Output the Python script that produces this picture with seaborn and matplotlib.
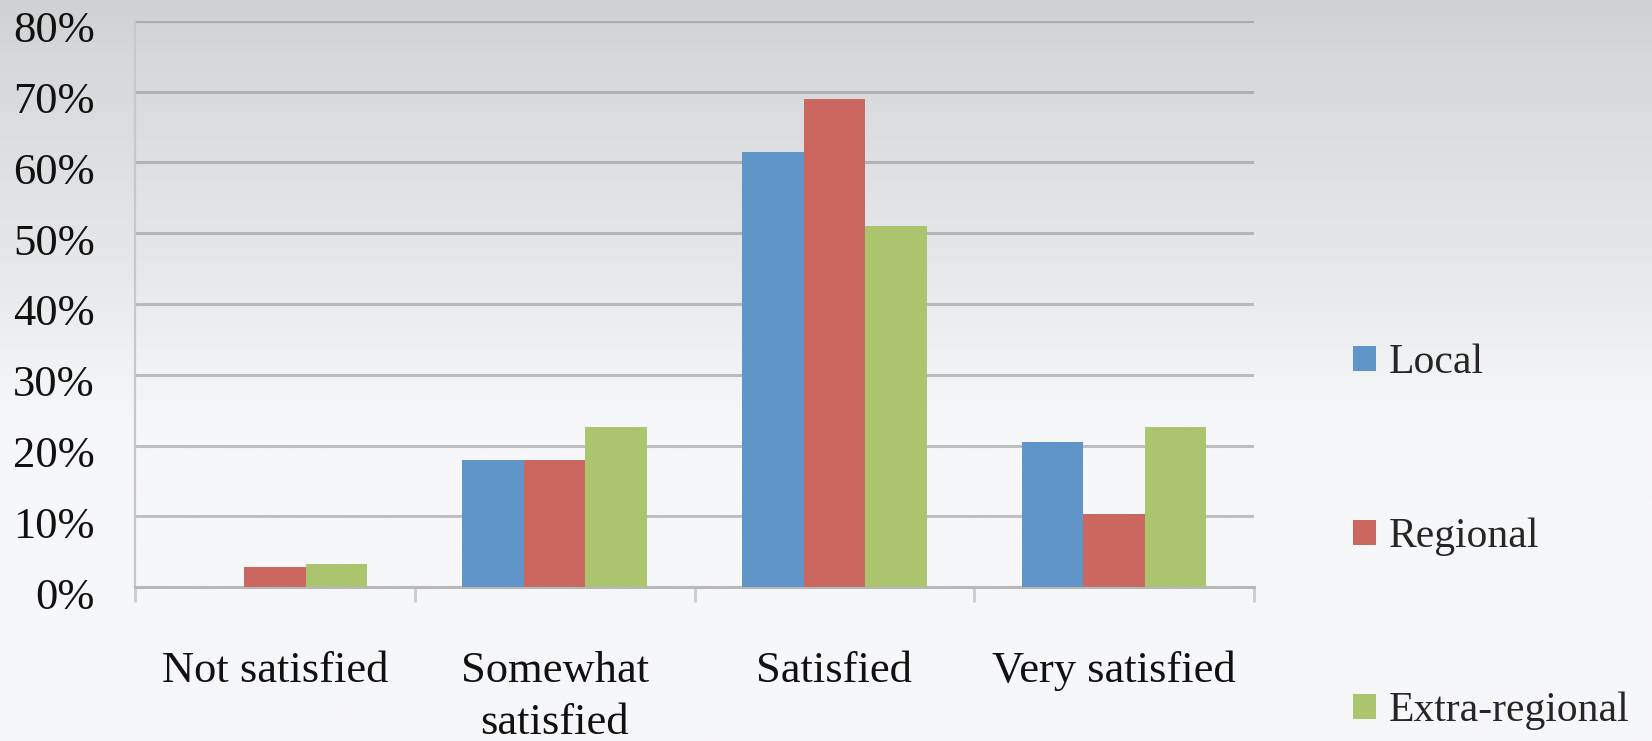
import matplotlib
matplotlib.use('Agg')
import matplotlib.pyplot as plt
import matplotlib.transforms as mtransforms
import numpy as np
import pandas as pd
import seaborn as sns
from matplotlib.colors import LinearSegmentedColormap
from matplotlib.ticker import FuncFormatter, FixedLocator

# Data (percent of respondents)
categories = ['Not satisfied', 'Somewhat\nsatisfied', 'Satisfied', 'Very satisfied']
series = ['Local', 'Regional', 'Extra-regional']
local = [0.0, 17.9, 61.5, 20.5]
regional = [2.8, 17.9, 69.0, 10.3]
extra_regional = [3.3, 22.6, 51.0, 22.6]
yticks = [0, 10, 20, 30, 40, 50, 60, 70, 80]
colors = ['#5f95c8', '#cc6660', '#abc56f']

df = pd.DataFrame({
    'category': categories * len(series),
    'group': np.repeat(series, len(categories)),
    'value': local + regional + extra_regional,
})

sns.set_theme(style='white')
plt.rcParams['font.family'] = ['Liberation Serif', 'DejaVu Serif']

fig = plt.figure(figsize=(16.52, 7.41), dpi=100)

# grey-to-white background gradient
bg = fig.add_axes([0, 0, 1, 1], zorder=-10)
cmap = LinearSegmentedColormap.from_list('bg', [
    (0.0, '#f6f7f9'), (0.43, '#f6f7f9'), (0.49, '#f2f3f4'),
    (0.65, '#e6e7e9'), (0.92, '#d7d8da'), (1.0, '#d0d1d3')])
bg.imshow(np.linspace(0, 1, 256).reshape(-1, 1), aspect='auto', cmap=cmap,
          origin='lower', extent=[0, 1, 0, 1])
bg.axis('off')

ax = fig.add_axes([0.0817, 0.2078, 0.6774, 0.7639])
ax.patch.set_alpha(0)
sns.barplot(data=df, x='category', y='value', hue='group', hue_order=series,
            palette=colors, width=0.66, saturation=1, ax=ax, zorder=3,
            edgecolor='none')

handles, labels = ax.get_legend_handles_labels()
ax.get_legend().remove()

ax.set_ylim(0, 80)
ax.set_xlim(-0.5, len(categories) - 0.5)
ax.set_yticks(yticks)
ax.yaxis.set_major_formatter(FuncFormatter(lambda v, p: f'{v:.0f}%'))
ax.set_xlabel('')
ax.set_ylabel('')

ax.yaxis.grid(True, color='#888888', alpha=0.5, lw=2.2)
ax.set_axisbelow(True)
for s in ['top', 'right']:
    ax.spines[s].set_visible(False)
ax.spines['bottom'].set_color('#b8b8b8')
ax.spines['bottom'].set_linewidth(2.2)
ax.spines['left'].set_color('#c8c8c8')
ax.spines['left'].set_linewidth(1.6)

ax.tick_params(axis='y', which='major', length=8, width=2.2, color='#b4b4b4',
               direction='out', pad=21, labelsize=32, labelcolor='#111111')
ax.tick_params(axis='x', which='major', length=0, pad=46, labelsize=32,
               labelcolor='#111111')
ax.xaxis.set_minor_locator(FixedLocator(np.arange(-0.5, len(categories), 1.0)))
ax.tick_params(axis='x', which='minor', length=11, width=2, color='#cccccc',
               direction='out', bottom=True)

# y labels sit a little below their gridlines in the original
shift = mtransforms.ScaledTranslation(0, -6 / 100, fig.dpi_scale_trans)
for lab in ax.get_yticklabels():
    lab.set_transform(lab.get_transform() + shift)
for lab in ax.get_xticklabels():
    lab.set_linespacing(1.38)

fig.legend(handles, labels, loc='center left',
           bbox_to_anchor=(1353 / 1652, (741 - 537) / 741), frameon=False,
           fontsize=30, labelspacing=3.25, handlelength=0.55, handleheight=0.55,
           handletextpad=0.3, borderpad=0, borderaxespad=0)

fig.savefig('out.png', dpi=100)
